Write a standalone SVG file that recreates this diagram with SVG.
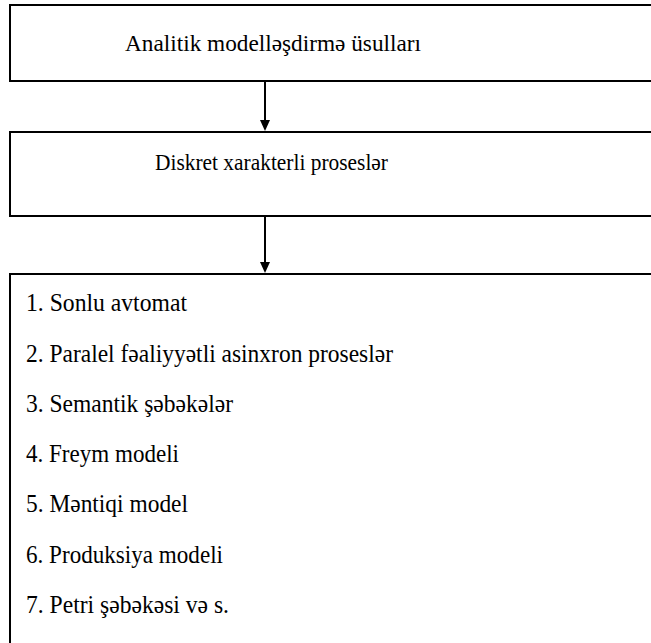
<svg xmlns="http://www.w3.org/2000/svg" width="651" height="643" viewBox="0 0 651 643">
  <style>
    .frame { fill: none; stroke: #000000; stroke-width: 2; }
    .edge { stroke: #000000; stroke-width: 2; fill: none; }
    .head { fill: #000000; stroke: none; }
  </style>
  <rect width="651" height="643" fill="#ffffff"/>

  <!-- boxes run off the right (and, for the list, bottom) edge of the page -->
  <g id="methods">
    <path class="frame" d="M651,5 H10 V81 H651"/>
    <text x="125" y="51" style="font-family: 'Liberation Serif', serif !important; font-size: 24px;" textLength="296" lengthAdjust="spacingAndGlyphs">Analitik modelləşdirmə üsulları</text>
  </g>

  <g id="discrete">
    <path class="frame" d="M651,132 H10 V216 H651"/>
    <text x="155" y="170" style="font-family: 'Liberation Serif', serif !important; font-size: 24px;" textLength="233" lengthAdjust="spacingAndGlyphs">Diskret xarakterli proseslər</text>
  </g>

  <g id="models">
    <path class="frame" d="M651,274 H10 V643"/>
    <text x="26" y="311" style="font-family: 'Liberation Serif', serif !important; font-size: 25px;" textLength="161" lengthAdjust="spacingAndGlyphs">1. Sonlu avtomat</text>
    <text x="26" y="362" style="font-family: 'Liberation Serif', serif !important; font-size: 25px;" textLength="367" lengthAdjust="spacingAndGlyphs">2. Paralel fəaliyyətli asinxron proseslər</text>
    <text x="26" y="412" style="font-family: 'Liberation Serif', serif !important; font-size: 25px;" textLength="207" lengthAdjust="spacingAndGlyphs">3. Semantik şəbəkələr</text>
    <text x="26" y="462" style="font-family: 'Liberation Serif', serif !important; font-size: 25px;" textLength="153" lengthAdjust="spacingAndGlyphs">4. Freym modeli</text>
    <text x="26" y="512" style="font-family: 'Liberation Serif', serif !important; font-size: 25px;" textLength="162" lengthAdjust="spacingAndGlyphs">5. Məntiqi model</text>
    <text x="26" y="563" style="font-family: 'Liberation Serif', serif !important; font-size: 25px;" textLength="197" lengthAdjust="spacingAndGlyphs">6. Produksiya modeli</text>
    <text x="26" y="613" style="font-family: 'Liberation Serif', serif !important; font-size: 25px;" textLength="203" lengthAdjust="spacingAndGlyphs">7. Petri şəbəkəsi və s.</text>
  </g>

  <g id="connectors">
    <line class="edge" x1="265" y1="82" x2="265" y2="121"/>
    <path class="head" d="M260,120 L270,120 L265,131 z"/>
    <line class="edge" x1="265" y1="217" x2="265" y2="263"/>
    <path class="head" d="M260,262 L270,262 L265,273 z"/>
  </g>
</svg>
